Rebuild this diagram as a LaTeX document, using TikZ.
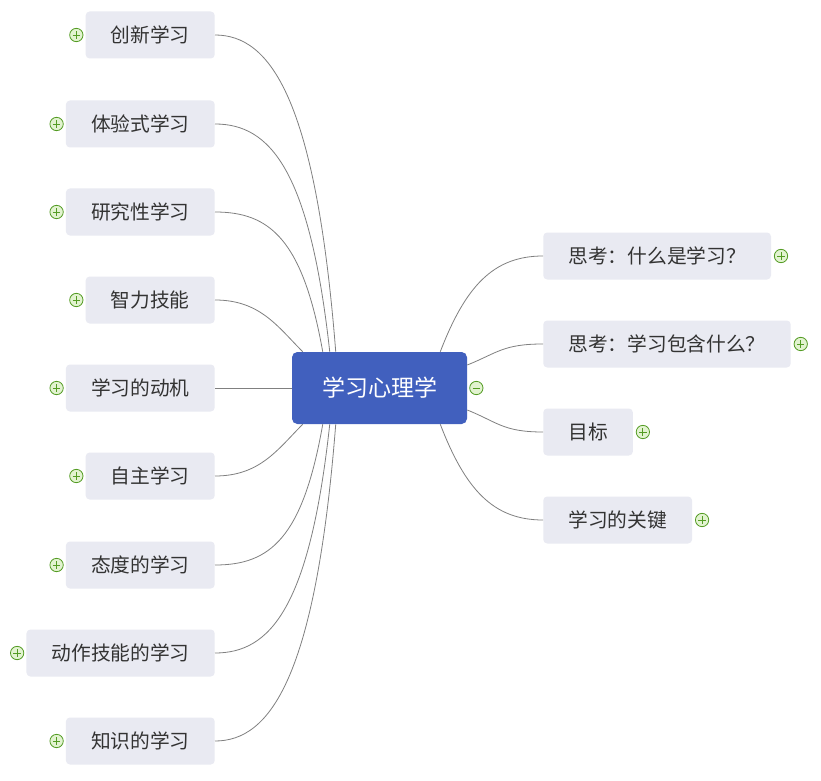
\documentclass[tikz,border=0pt]{standalone}
\usepackage{fontspec}
\setmainfont{Noto Sans CJK SC}
\usetikzlibrary{positioning,calc}

\definecolor{topicfill}{RGB}{233,234,242}
\definecolor{rootfill}{RGB}{65,96,190}
\definecolor{linkgray}{RGB}{128,128,128}
\definecolor{iconline}{RGB}{84,156,36}
\definecolor{iconfill}{RGB}{226,243,208}
\definecolor{textdark}{RGB}{51,51,51}

\begin{document}
\begin{tikzpicture}[
  x=0.75pt, y=-0.75pt,
  node distance=1.5pt,
  topic/.style={fill=topicfill, rounded corners=3pt, minimum height=35.25pt, inner xsep=18.8pt, text=textdark, font=\fontsize{14.8}{17}\selectfont},
  ltopic/.style={topic, anchor=east},
  rtopic/.style={topic, anchor=west},
  central/.style={fill=rootfill, rounded corners=4pt, minimum width=131.25pt, minimum height=54pt, text=white, font=\fontsize{17.25}{20}\selectfont},
  iconbase/.style={circle, draw=iconline, fill=iconfill, line width=0.6pt, minimum size=10pt, inner sep=0pt},
  plusicon/.style={iconbase, path picture={
    \draw[iconline, line width=0.7pt] ($(path picture bounding box.center)+(-2.8pt,0)$) -- ++(5.6pt,0)
      ($(path picture bounding box.center)+(0,-2.8pt)$) -- ++(0,5.6pt);}},
  minusicon/.style={iconbase, path picture={
    \draw[iconline, line width=0.7pt] ($(path picture bounding box.center)+(-2.8pt,0)$) -- ++(5.6pt,0);}},
  link/.style={draw=linkgray, line width=0.6pt}
]
  \fill[white] (0,0) rectangle (821,781);
  \useasboundingbox (0,0) rectangle (821,781);

  % central topic
  \node[central] (root) at (379.5,388) {学习心理学};
  \node[minusicon, right=of root] (rootx) {};

  % left branches
  \node[ltopic] (c1) at (215,35) {创新学习};
  \node[ltopic] (c2) at (215,124) {体验式学习};
  \node[ltopic] (c3) at (215,212) {研究性学习};
  \node[ltopic] (c4) at (215,300) {智力技能};
  \node[ltopic] (c5) at (215,388) {学习的动机};
  \node[ltopic] (c6) at (215,476) {自主学习};
  \node[ltopic] (c7) at (215,565) {态度的学习};
  \node[ltopic] (c8) at (215,653) {动作技能的学习};
  \node[ltopic] (c9) at (215,741) {知识的学习};

  % right branches
  \node[rtopic] (t1) at (543,256) {思考：什么是学习？};
  \node[rtopic] (t2) at (543,344) {思考：学习包含什么？};
  \node[rtopic] (t3) at (543,432) {目标};
  \node[rtopic] (t4) at (543,520) {学习的关键};

  % collapsed markers
  \node[plusicon, left=of c1] (c1x) {};
  \node[plusicon, left=of c2] (c2x) {};
  \node[plusicon, left=of c3] (c3x) {};
  \node[plusicon, left=of c4] (c4x) {};
  \node[plusicon, left=of c5] (c5x) {};
  \node[plusicon, left=of c6] (c6x) {};
  \node[plusicon, left=of c7] (c7x) {};
  \node[plusicon, left=of c8] (c8x) {};
  \node[plusicon, left=of c9] (c9x) {};
  \node[plusicon, right=2pt of t1] (t1x) {};
  \node[plusicon, right=2pt of t2] (t2x) {};
  \node[plusicon, right=2pt of t3] (t3x) {};
  \node[plusicon, right=2pt of t4] (t4x) {};

  % links
  \draw[link] ($(root.north west)+(44,0)$) .. controls +(-20,-254) and +(55,0) .. (c1.east);
  \draw[link] ($(root.north west)+(38,0)$) .. controls +(-20,-182) and +(55,0) .. (c2.east);
  \draw[link] ($(root.north west)+(31,0)$) .. controls +(-20,-112) and +(55,0) .. (c3.east);
  \draw[link] ($(root.north west)+(11,0)$) .. controls +(-25,-25) and +(45,0) .. (c4.east);
  \draw[link] (root.west) -- (c5.east);
  \draw[link] ($(root.south west)+(11,0)$) .. controls +(-25,25) and +(45,0) .. (c6.east);
  \draw[link] ($(root.south west)+(31,0)$) .. controls +(-20,114) and +(55,0) .. (c7.east);
  \draw[link] ($(root.south west)+(38,0)$) .. controls +(-20,184) and +(55,0) .. (c8.east);
  \draw[link] ($(root.south west)+(44,0)$) .. controls +(-20,254) and +(55,0) .. (c9.east);

  \draw[link] ($(root.north east)+(-27,0)$) .. controls +(25,-65) and +(-50,0) .. (t1.west);
  \draw[link] ($(root.east)+(0,-23)$) .. controls +(30,-12) and +(-40,0) .. (t2.west);
  \draw[link] ($(root.east)+(0,22)$) .. controls +(30,12) and +(-40,0) .. (t3.west);
  \draw[link] ($(root.south east)+(-27,0)$) .. controls +(25,65) and +(-50,0) .. (t4.west);
\end{tikzpicture}
\end{document}
